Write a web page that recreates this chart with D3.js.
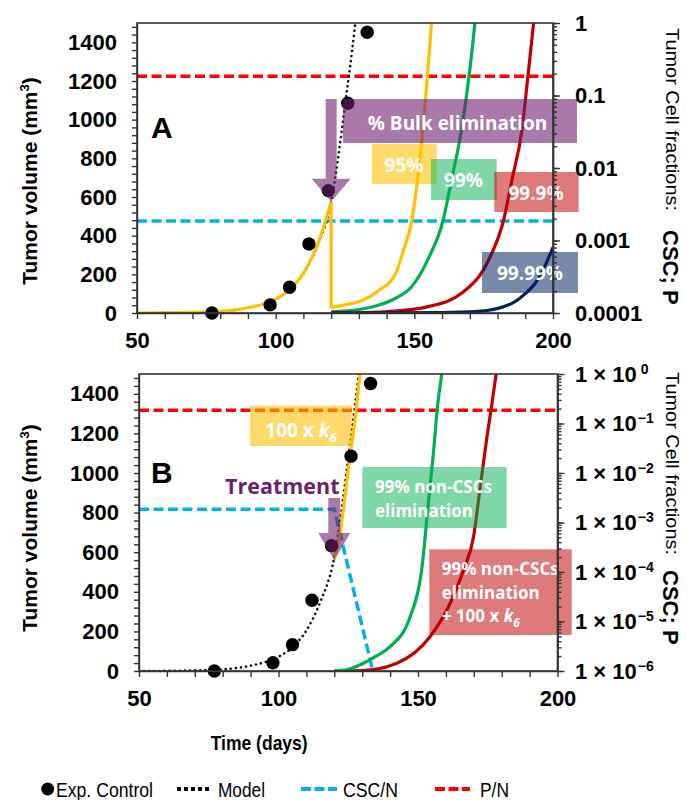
<!DOCTYPE html>
<html>
<head>
<meta charset="utf-8">
<script src="https://cdn.jsdelivr.net/npm/d3@7"></script>
<style>
  body { margin: 0; background: #fff; }
  svg text { font-family: "Liberation Sans", Arial, sans-serif; }
  .lbl { font-family: "Open Sans", Lato, sans-serif !important; font-weight: 700; fill: #fff; }
</style>
</head>
<body>
<script>
    // experimental control (same in both panels)
    var ctrlDays = [77, 98, 105, 112, 119, 126, 133];
    var ctrlVol = [0, 42, 133, 357, 633, 1085, 1452];

    // model (black dotted), tumor volume mm3
    var modelDays = [50, 60, 70, 77, 85, 90, 95, 100, 105, 110, 115, 120, 122.5, 125, 127.5, 129.5];
    var modelVol = [0, 0.5, 3, 6, 15, 27, 44, 72, 120, 205, 350, 575, 800, 1075, 1350, 1600];

    // panel A : regrowth after % bulk elimination at day 120
    var bulk95Days = [120, 125, 131.6, 137, 143.3, 146, 149, 152, 154, 156.2, 157];
    var bulk95Vol = [27, 42, 67, 115, 205, 320, 470, 800, 1100, 1500, 1650];
    var bulk99Days = [120, 130, 137, 143, 149, 155, 160.4, 163.4, 167, 170, 171.8, 172.5];
    var bulk99Vol = [6, 18, 40, 75, 136, 280, 481, 688, 947, 1257, 1500, 1620];
    var bulk999Days = [120, 135, 143, 155, 167, 176.8, 182.2, 185.2, 188.8, 191.2, 193, 193.8];
    var bulk999Vol = [0.6, 4, 10, 33, 102, 274, 481, 688, 947, 1257, 1500, 1620];
    var bulk9999Days = [120, 160, 173, 185.2, 190, 193.6, 197, 200];
    var bulk9999Vol = [0.06, 2, 8, 50, 100, 154, 240, 340];
    var bulkLabels = ["95%", "99%", "99.9%", "99.99%"];

    // cell fractions (right axis)
    var pFrac = 0.185;
    var cscFrac = 0.00186;

    // panel B
    var k6Days = [120, 122, 125.6, 127.4, 129.2, 130];
    var k6Vol = [560, 694, 1080, 1265, 1500, 1600];
    var nonCscDays = [120, 125, 130.4, 135, 140, 147.2, 151.3, 153.7, 155.5, 157.1, 158.5, 159.3];
    var nonCscVol = [0, 8, 39, 75, 123, 274, 509, 846, 1098, 1350, 1500, 1600];
    var nonCscK6Days = [120, 130, 142.4, 154.3, 161.5, 166.3, 169.9, 172.3, 174.7, 176.5, 178, 179];
    var nonCscK6Vol = [0, 2, 39, 173, 341, 509, 677, 929, 1181, 1350, 1500, 1600];
    var cscBDays = [50, 120, 133.8];
    var cscBFrac = [0.00186, 0.00186, 0.000001];

    // ticks
    var dayTicks = [50, 100, 150, 200];
    var volTicks = [0, 200, 400, 600, 800, 1000, 1200, 1400];
    var fracTicksA = [1, 0.1, 0.01, 0.001, 0.0001];
    var fracLabelsA = ["1", "0.1", "0.01", "0.001", "0.0001"];

    var w = 687, h = 800;
    var svg = d3.select("body").append("svg").attr("width", w).attr("height", h);

    function zip(xs, ys) { return xs.map(function(d, i) { return [d, ys[i]]; }); }

    // panel geometry
    var A = {left: 137, right: 553, top: 23, bottom: 313, id: "clipA"};
    var B = {left: 139, right: 557.5, top: 374, bottom: 671, id: "clipB"};
    [A, B].forEach(function(p) {
        p.x = d3.scaleLinear().domain([50, 200]).range([p.left, p.right]);
        p.v = d3.scaleLinear().domain([0, 1500]).range([p.bottom, p.top]);
        svg.append("clipPath").attr("id", p.id).append("rect")
            .attr("x", p.left).attr("y", p.top)
            .attr("width", p.right - p.left).attr("height", p.bottom - p.top);
        p.g = svg.append("g").attr("clip-path", "url(#" + p.id + ")");
    });
    A.f = d3.scaleLog().domain([1e-4, 1]).range([A.bottom, A.top]);
    B.f = d3.scaleLog().domain([1e-6, 1]).range([B.bottom, B.top]);

    function volLine(p) {
        return d3.line().x(function(d) { return p.x(d[0]); }).y(function(d) { return p.v(d[1]); }).curve(d3.curveMonotoneX);
    }
    function fracLine(p) {
        return d3.line().x(function(d) { return p.x(d[0]); }).y(function(d) { return p.f(d[1]); });
    }

    function hDash(p, frac, color) {
        p.g.append("line").attr("x1", p.left).attr("x2", p.right)
            .attr("y1", p.f(frac)).attr("y2", p.f(frac))
            .attr("stroke", color).attr("stroke-width", 3.5).attr("stroke-dasharray", "10,4.5");
    }
    function curve(p, data, color) {
        p.g.append("path").datum(data).attr("d", volLine(p))
            .attr("fill", "none").attr("stroke", color).attr("stroke-width", 3.2);
    }
    function model(p) {
        p.g.append("path").datum(zip(modelDays, modelVol)).attr("d", volLine(p))
            .attr("fill", "none").attr("stroke", "#111").attr("stroke-width", 2.6)
            .attr("stroke-linecap", "round").attr("stroke-dasharray", "0.1,5");
    }
    function dots(p) {
        svg.append("g").selectAll("circle").data(zip(ctrlDays, ctrlVol)).enter().append("circle")
            .attr("cx", function(d) { return p.x(d[0]); })
            .attr("cy", function(d) { return p.v(d[1]); })
            .attr("r", 6.7).attr("fill", "#000");
    }
    function arrow(p, day, tipVol, shaftTop, halfShaft, headH, halfHead) {
        var cx = p.x(day), ty = p.v(tipVol), hy = ty - headH;
        var pts = [[cx - halfShaft, shaftTop], [cx + halfShaft, shaftTop], [cx + halfShaft, hy], [cx + halfHead, hy],
                   [cx, ty], [cx - halfHead, hy], [cx - halfShaft, hy]];
        svg.append("path").attr("d", "M" + pts.join("L") + "Z").attr("fill", "#702070").attr("opacity", 0.6);
    }
    function box(x, y, bw, bh, color, op) {
        svg.append("rect").attr("x", x).attr("y", y).attr("width", bw).attr("height", bh)
            .attr("fill", color).attr("opacity", op);
    }
    function boxText(x, y, txt, size, anchor) {
        return svg.append("text").attr("class", "lbl").attr("x", x).attr("y", y)
            .attr("font-size", size).attr("text-anchor", anchor || "middle").text(txt);
    }

    function axes(p, fracFmt, fracPad) {
        var gx = svg.append("g").attr("transform", "translate(0," + p.bottom + ")")
            .call(d3.axisBottom(p.x).tickValues(d3.range(50, 201, 10)).tickSize(6).tickPadding(13).tickSizeOuter(0)
                .tickFormat(function(d) { return dayTicks.indexOf(d) >= 0 ? d : ""; }));
        var gy = svg.append("g").attr("transform", "translate(" + p.left + ",0)")
            .call(d3.axisLeft(p.v).tickValues(d3.range(0, 1500, 40)).tickSize(5).tickPadding(15).tickSizeOuter(0)
                .tickFormat(function(d) { return volTicks.indexOf(d) >= 0 ? d : ""; }));
        var gm = svg.append("g").attr("transform", "translate(" + p.right + ",0)")
            .call(d3.axisRight(p.f).tickValues(p.f.ticks()).tickSize(4).tickSizeOuter(0).tickFormat(""));
        var gr = svg.append("g").attr("transform", "translate(" + p.right + ",0)")
            .call(d3.axisRight(p.f).tickValues(p.f.ticks().filter(function(d) {
                    return Math.abs(Math.log10(d) - Math.round(Math.log10(d))) < 1e-9; }))
                .tickSize(7).tickPadding(fracPad).tickSizeOuter(0).tickFormat(fracFmt));
        [gx, gy, gm, gr].forEach(function(g) {
            g.attr("font-family", null).attr("font-size", null);
            g.selectAll("path,line").attr("stroke", "#333").attr("stroke-width", 1.4);
            g.selectAll("text").attr("fill", "#000").attr("font-size", 22).attr("font-weight", 700);
        });
        svg.append("rect").attr("x", p.left).attr("y", p.top)
            .attr("width", p.right - p.left).attr("height", p.bottom - p.top)
            .attr("fill", "none").attr("stroke", "#333").attr("stroke-width", 1.6);
        return gr;
    }

    // ---------- panel A ----------
    hDash(A, pFrac, "#FF0000");
    hDash(A, cscFrac, "#00B0F0");
    model(A);
    var preA = zip(modelDays, modelVol).filter(function(d) { return d[0] <= 120; });
    curve(A, preA, "#FFC000");
    A.g.append("line").attr("x1", A.x(120)).attr("x2", A.x(120))
        .attr("y1", A.v(preA[preA.length - 1][1])).attr("y2", A.v(bulk95Vol[0]))
        .attr("stroke", "#FFC000").attr("stroke-width", 3.2);
    curve(A, zip(bulk95Days, bulk95Vol), "#FFC000");
    curve(A, zip(bulk99Days, bulk99Vol), "#00B050");
    curve(A, zip(bulk999Days, bulk999Vol), "#C00000");
    curve(A, zip(bulk9999Days, bulk9999Vol), "#002060");
    dots(A);
    arrow(A, 120, modelVol[modelDays.indexOf(120)], 99, 5.5, 23, 19.5);

    box(343, 99, 234, 44, "#702070", 0.6);
    boxText(457.5, 129.5, "% Bulk elimination", 19);
    box(371.7, 144, 65, 40, "#FFC000", 0.58);
    boxText(404, 171.5, bulkLabels[0], 19);
    box(431, 159, 65.7, 41, "#00B050", 0.5);
    boxText(463.5, 186.5, bulkLabels[1], 19);
    box(494.3, 172, 84.4, 40, "#C00000", 0.52);
    boxText(536, 200, bulkLabels[2], 19);
    box(482, 252, 96, 41, "#002060", 0.53);
    boxText(530, 280, bulkLabels[3], 19);

    axes(A, function(d) { return fracLabelsA[fracTicksA.indexOf(+d.toPrecision(1))]; }, 15);

    svg.append("text").attr("x", 151).attr("y", 138).attr("font-size", 30).attr("font-weight", 700).text("A");

    // ---------- panel B ----------
    hDash(B, pFrac, "#FF0000");
    B.g.append("path").datum(zip(cscBDays, cscBFrac)).attr("d", fracLine(B))
        .attr("fill", "none").attr("stroke", "#00B0F0").attr("stroke-width", 3.5).attr("stroke-dasharray", "10,4.5");
    model(B);
    curve(B, zip(nonCscK6Days, nonCscK6Vol), "#C00000");
    curve(B, zip(nonCscDays, nonCscVol), "#00B050");
    curve(B, zip(k6Days, k6Vol), "#FFC000");
    dots(B);
    arrow(B, 120, k6Vol[0], 498, 6, 27, 16);

    svg.append("text").attr("x", 225).attr("y", 494).attr("font-size", 21.5).attr("font-weight", 700)
        .style("font-family", "'Open Sans', Lato, sans-serif").attr("fill", "#6e1f6e").text("Treatment");

    box(250, 405.7, 101.7, 40.3, "#FFC000", 0.58);
    var t1 = boxText(301, 436.5, "100 x ", 19);
    t1.append("tspan").attr("font-style", "italic").text("k");
    t1.append("tspan").attr("font-style", "italic").attr("font-size", 13).attr("dy", 5).text("6");

    box(362.3, 467, 144.4, 61, "#00B050", 0.5);
    boxText(375, 492.5, "99% non-CSCs", 17, "start");
    boxText(375, 516.5, "elimination", 17, "start");

    box(429.3, 549.3, 142.4, 85.7, "#C00000", 0.52);
    boxText(441.7, 575, "99% non-CSCs", 17, "start");
    boxText(441.7, 598.5, "elimination", 17, "start");
    var t2 = boxText(441.7, 621.5, "+ 100 x ", 17, "start");
    t2.append("tspan").attr("font-style", "italic").text("k");
    t2.append("tspan").attr("font-style", "italic").attr("font-size", 12).attr("dy", 5).text("6");

    var grB = axes(B, function() { return "1 × 10"; }, 10.5);
    grB.selectAll(".tick text").each(function(d) {
        var e = Math.round(Math.log10(d));
        d3.select(this).append("tspan").attr("dy", "-0.55em").attr("dx", e === 0 ? 4 : 1)
            .attr("font-size", 14).text(e === 0 ? "0" : "\u2212" + (-e));
    });

    svg.append("text").attr("x", 151).attr("y", 483).attr("font-size", 30).attr("font-weight", 700).text("B");

    // ---------- axis titles ----------
    [[A, 181], [B, 528]].forEach(function(pc) {
        svg.append("text").attr("transform", "translate(37," + pc[1] + ") rotate(-90)")
            .attr("text-anchor", "middle").attr("font-size", 21).attr("font-weight", 700)
            .text("Tumor volume (mm").append("tspan").attr("font-size", 13).attr("dy", -8).text("3")
            .select(function() { return this.parentNode; })
            .append("tspan").attr("dy", 8).text(")");
    });
    [[28, 230], [372, 570]].forEach(function(ys) {
        svg.append("text").attr("transform", "translate(666," + ys[0] + ") rotate(90)")
            .attr("font-size", 19).attr("textLength", 183).attr("lengthAdjust", "spacingAndGlyphs")
            .text("Tumor Cell fractions:");
        svg.append("text").attr("transform", "translate(663," + ys[1] + ") rotate(90)")
            .attr("font-size", 22).attr("font-weight", 700).text("CSC; P");
    });

    svg.append("text").attr("x", 210.7).attr("y", 750).attr("font-size", 21).attr("font-weight", 700)
        .attr("textLength", 97).attr("lengthAdjust", "spacingAndGlyphs").text("Time (days)");

    // ---------- legend ----------
    var ly = 789;
    svg.append("circle").attr("cx", 47.7).attr("cy", ly).attr("r", 6.5).attr("fill", "#000");
    svg.append("line").attr("x1", 177).attr("x2", 210).attr("y1", ly).attr("y2", ly)
        .attr("stroke", "#000").attr("stroke-width", 4).attr("stroke-dasharray", "4,3");
    svg.append("line").attr("x1", 301).attr("x2", 337).attr("y1", ly).attr("y2", ly)
        .attr("stroke", "#00B0F0").attr("stroke-width", 4).attr("stroke-dasharray", "10,3.5");
    svg.append("line").attr("x1", 435).attr("x2", 470).attr("y1", ly).attr("y2", ly)
        .attr("stroke", "#FF0000").attr("stroke-width", 4).attr("stroke-dasharray", "10,3.5");
    [["Exp. Control", 56, 97], ["Model", 218, 47], ["CSC/N", 343, 55], ["P/N", 480, 29]].forEach(function(l) {
        svg.append("text").attr("x", l[1]).attr("y", 796.5).attr("font-size", 21)
            .attr("textLength", l[2]).attr("lengthAdjust", "spacingAndGlyphs").text(l[0]);
    });
</script>
</body>
</html>
